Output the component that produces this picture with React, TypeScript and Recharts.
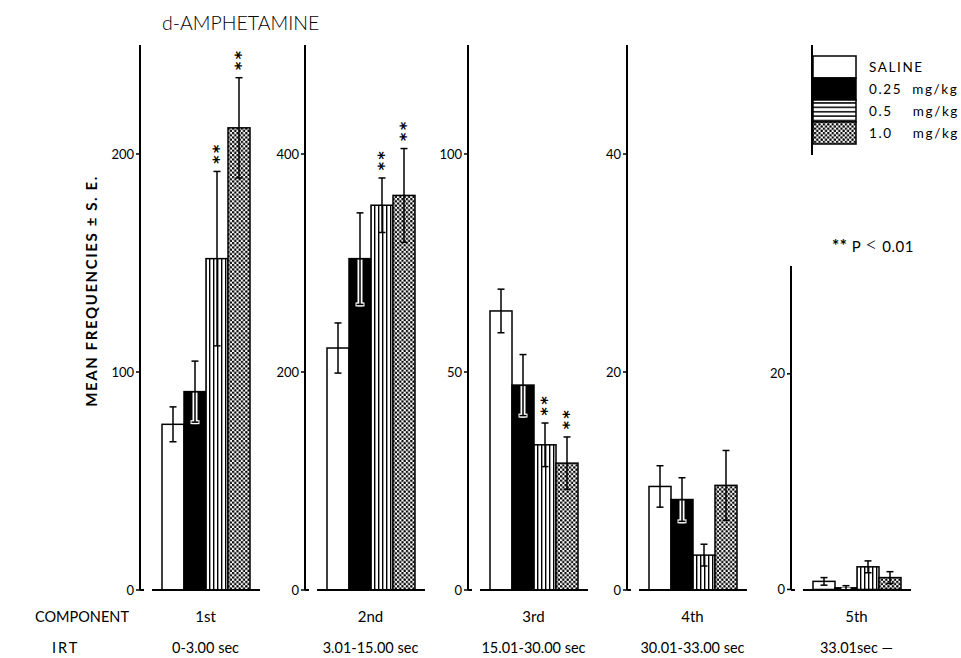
import React from "react";
import { BarChart, Bar, XAxis, YAxis, ErrorBar } from "recharts";

// IRT components and their time windows
const COMPONENTS = ["1st", "2nd", "3rd", "4th", "5th"];
const IRT = ["0-3.00 sec", "3.01-15.00 sec", "15.01-30.00 sec", "30.01-33.00 sec", "33.01sec \u2014"];

// mean frequencies and standard errors per dose
const SALINE = [76, 222, 64, 9.5, 0.75];
const SALINE_SE = [8, 23, 5, 1.9, 0.35];
const DOSE_025 = [91, 304, 47, 8.3, 0.15];
const DOSE_025_SE = [14, 42, 7, 2.0, 0.2];
const DOSE_05 = [152, 353, 33.3, 3.2, 2.1];
const DOSE_05_SE = [40, 25, 5, 1.0, 0.55];
const DOSE_10 = [212, 362, 29.1, 9.6, 1.1];
const DOSE_10_SE = [23, 43, 6, 3.2, 0.55];

// ** P < 0.01
const SIG_05 = [true, true, true, false, false];
const SIG_10 = [true, true, true, false, false];

// each component has its own y scale
const Y_MAX = [250, 500, 125, 50, 30];
const Y_TICKS = [
  [0, 100, 200],
  [0, 200, 400],
  [0, 50, 100],
  [0, 20, 40],
  [0, 20],
];

const LEGEND = ["SALINE", "0.25  mg/kg", "0.5    mg/kg", "1.0    mg/kg"];

const FONT = "Lato, 'DejaVu Sans', sans-serif";
const AXIS_X = [140, 305, 468, 627, 791];
const Y_W = 40;
const PLOT_W = 120;

const SERIES = [
  { key: "saline", se: "salineSe", sig: "", fill: () => "#fff", dark: false },
  { key: "d025", se: "d025Se", sig: "", fill: () => "#000", dark: true },
  { key: "d05", se: "d05Se", sig: "sig05", fill: (i: number) => `url(#stripes-${i})`, dark: false },
  { key: "d10", se: "d10Se", sig: "sig10", fill: (i: number) => `url(#dots-${i})`, dark: false },
];

function PatternBar(props: any) {
  const { x, y, width, height, fill, payload, s } = props;
  const v = payload[s.key];
  const se = payload[s.se];
  const sig = s.sig ? payload[s.sig] : false;
  const k = v > 0 ? height / v : 0;
  const cx = x + width / 2;
  const seTop = y - se * k;
  const inside = Math.min(se * k, height);
  const fs = 16;
  return (
    <g>
      <rect x={x} y={y} width={width} height={height} fill={fill} stroke="#000" strokeWidth={1.5} />
      {s.dark && inside > 0 && (
        <>
          <rect x={cx - 2.5} y={y + 1} width={5} height={inside + 1} fill="#fff" />
          <rect x={cx - 4.5} y={y + inside - 2} width={9} height={4} fill="#fff" />
        </>
      )}
      {sig && (
        // "**" turned on its side so the two asterisks stack above the cap
        <text
          x={0}
          y={0}
          transform={`translate(${cx - fs * 0.57}, ${seTop - 5}) rotate(90)`}
          fontFamily="'DejaVu Sans', sans-serif"
          fontWeight={700}
          fontSize={fs}
          letterSpacing={2.5}
          textAnchor="end"
          fill="#000"
        >
          **
        </text>
      )}
    </g>
  );
}

function CompTick(props: any) {
  const { x, y, payload } = props;
  const irt = IRT[COMPONENTS.indexOf(payload.value)];
  return (
    <g fontFamily={FONT} fill="#000" textAnchor="middle">
      <text x={x} y={y + 32} fontSize={15}>
        {payload.value}
      </text>
      <text x={x} y={y + 63} fontSize={14.5}>
        {irt}
      </text>
    </g>
  );
}

function Panel({ i }: { i: number }) {
  const top = i === 4 ? 266 : 45;
  const row = [
    {
      comp: COMPONENTS[i],
      saline: SALINE[i],
      salineSe: SALINE_SE[i],
      d025: DOSE_025[i],
      d025Se: DOSE_025_SE[i],
      d05: DOSE_05[i],
      d05Se: DOSE_05_SE[i],
      d10: DOSE_10[i],
      d10Se: DOSE_10_SE[i],
      sig05: SIG_05[i],
      sig10: SIG_10[i],
    },
  ];
  return (
    <div style={{ position: "absolute", left: AXIS_X[i] - Y_W, top: 0 }}>
      <BarChart
        width={Y_W + PLOT_W + 14}
        height={658}
        data={row}
        margin={{ top, right: 14, bottom: 0, left: 0 }}
        barGap={0}
        barSize={22}
      >
        <defs>
          <pattern id={`stripes-${i}`} width={4} height={4} patternUnits="userSpaceOnUse">
            <rect width={4} height={4} fill="#fff" />
            <rect x={1} width={1.4} height={4} fill="#000" />
          </pattern>
          <pattern id={`dots-${i}`} width={4.4} height={4.4} patternUnits="userSpaceOnUse">
            <rect width={4.4} height={4.4} fill="#fff" />
            <circle cx={1.1} cy={1.1} r={1.25} fill="#000" />
            <circle cx={3.3} cy={3.3} r={1.25} fill="#000" />
          </pattern>
        </defs>
        <XAxis
          dataKey="comp"
          height={68}
          interval={0}
          tickLine={false}
          tickSize={0}
          tickMargin={0}
          padding={{ left: 11, right: 0 }}
          axisLine={{ stroke: "#000", strokeWidth: 2, strokeDasharray: "4 8 400" }}
          tick={(p: any) => <CompTick {...p} />}
        />
        <YAxis
          width={Y_W}
          type="number"
          domain={[0, Y_MAX[i]]}
          ticks={Y_TICKS[i]}
          interval={0}
          tickSize={4}
          tickMargin={2}
          axisLine={{ stroke: "#000", strokeWidth: 2 }}
          tickLine={{ stroke: "#000", strokeWidth: 1.5 }}
          tick={{ fill: "#000", fontSize: 13, fontFamily: FONT }}
        />
        {SERIES.map((s) => (
          <Bar
            key={s.key}
            dataKey={s.key}
            fill={s.fill(i)}
            isAnimationActive={false}
            shape={(p: any) => <PatternBar {...p} s={s} />}
          >
            <ErrorBar dataKey={s.se} direction="y" width={3.5} strokeWidth={1.5} stroke="#000" />
          </Bar>
        ))}
      </BarChart>
    </div>
  );
}

function Legend() {
  const fills = ["#fff", "#000", "url(#lg-hstripes)", "url(#lg-dots)"];
  const rows = [56, 78, 100, 122];
  return (
    <svg width={961} height={658} style={{ position: "absolute", left: 0, top: 0, pointerEvents: "none" }}>
      <defs>
        <pattern id="lg-hstripes" width={4} height={4.4} patternUnits="userSpaceOnUse">
          <rect width={4} height={4.4} fill="#fff" />
          <rect y={1} width={4} height={1.5} fill="#000" />
        </pattern>
        <pattern id="lg-dots" width={4.4} height={4.4} patternUnits="userSpaceOnUse">
          <rect width={4.4} height={4.4} fill="#fff" />
          <circle cx={1.1} cy={1.1} r={1.25} fill="#000" />
          <circle cx={3.3} cy={3.3} r={1.25} fill="#000" />
        </pattern>
      </defs>
      <line x1={812} y1={45} x2={812} y2={155} stroke="#000" strokeWidth={2} />
      {LEGEND.map((name, j) => (
        <g key={name}>
          <rect x={813} y={rows[j]} width={43} height={22} fill={fills[j]} stroke="#000" strokeWidth={1.5} />
          <text
            x={869}
            y={rows[j] + 16}
            fontFamily={FONT}
            fontSize={13.5}
            letterSpacing={1.6}
            fill="#000"
            style={{ whiteSpace: "pre" }}
          >
            {name}
          </text>
        </g>
      ))}
      <text x={832} y={252} fontFamily={FONT} fontSize={15} fill="#000" letterSpacing={0.5}>
        <tspan fontSize={17} fontWeight={700}>**</tspan>
        <tspan> P </tspan>
        <tspan fontSize={21} fontWeight={300}>{"<"}</tspan>
        <tspan> 0.01</tspan>
      </text>
      <text x={162} y={30} fontFamily={FONT} fontSize={19.5} fontWeight={300} fill="#000">
        d-AMPHETAMINE
      </text>
      <text
        x={97}
        y={291}
        transform="rotate(-90 97 291)"
        textAnchor="middle"
        fontFamily={FONT}
        fontSize={15}
        fontWeight={700}
        letterSpacing={1.6}
        fill="#000"
      >
        MEAN FREQUENCIES ± S. E.
      </text>
      <text x={35} y={622} fontFamily={FONT} fontSize={14.5} fill="#000">
        COMPONENT
      </text>
      <text x={52} y={653} fontFamily={FONT} fontSize={14.5} letterSpacing={2} fill="#000">
        IRT
      </text>
    </svg>
  );
}

export default function App() {
  return (
    <div style={{ position: "absolute", left: 0, top: 0, width: 961, height: 658, background: "#fff" }}>
      {COMPONENTS.map((_, i) => (
        <Panel key={i} i={i} />
      ))}
      <Legend />
    </div>
  );
}
